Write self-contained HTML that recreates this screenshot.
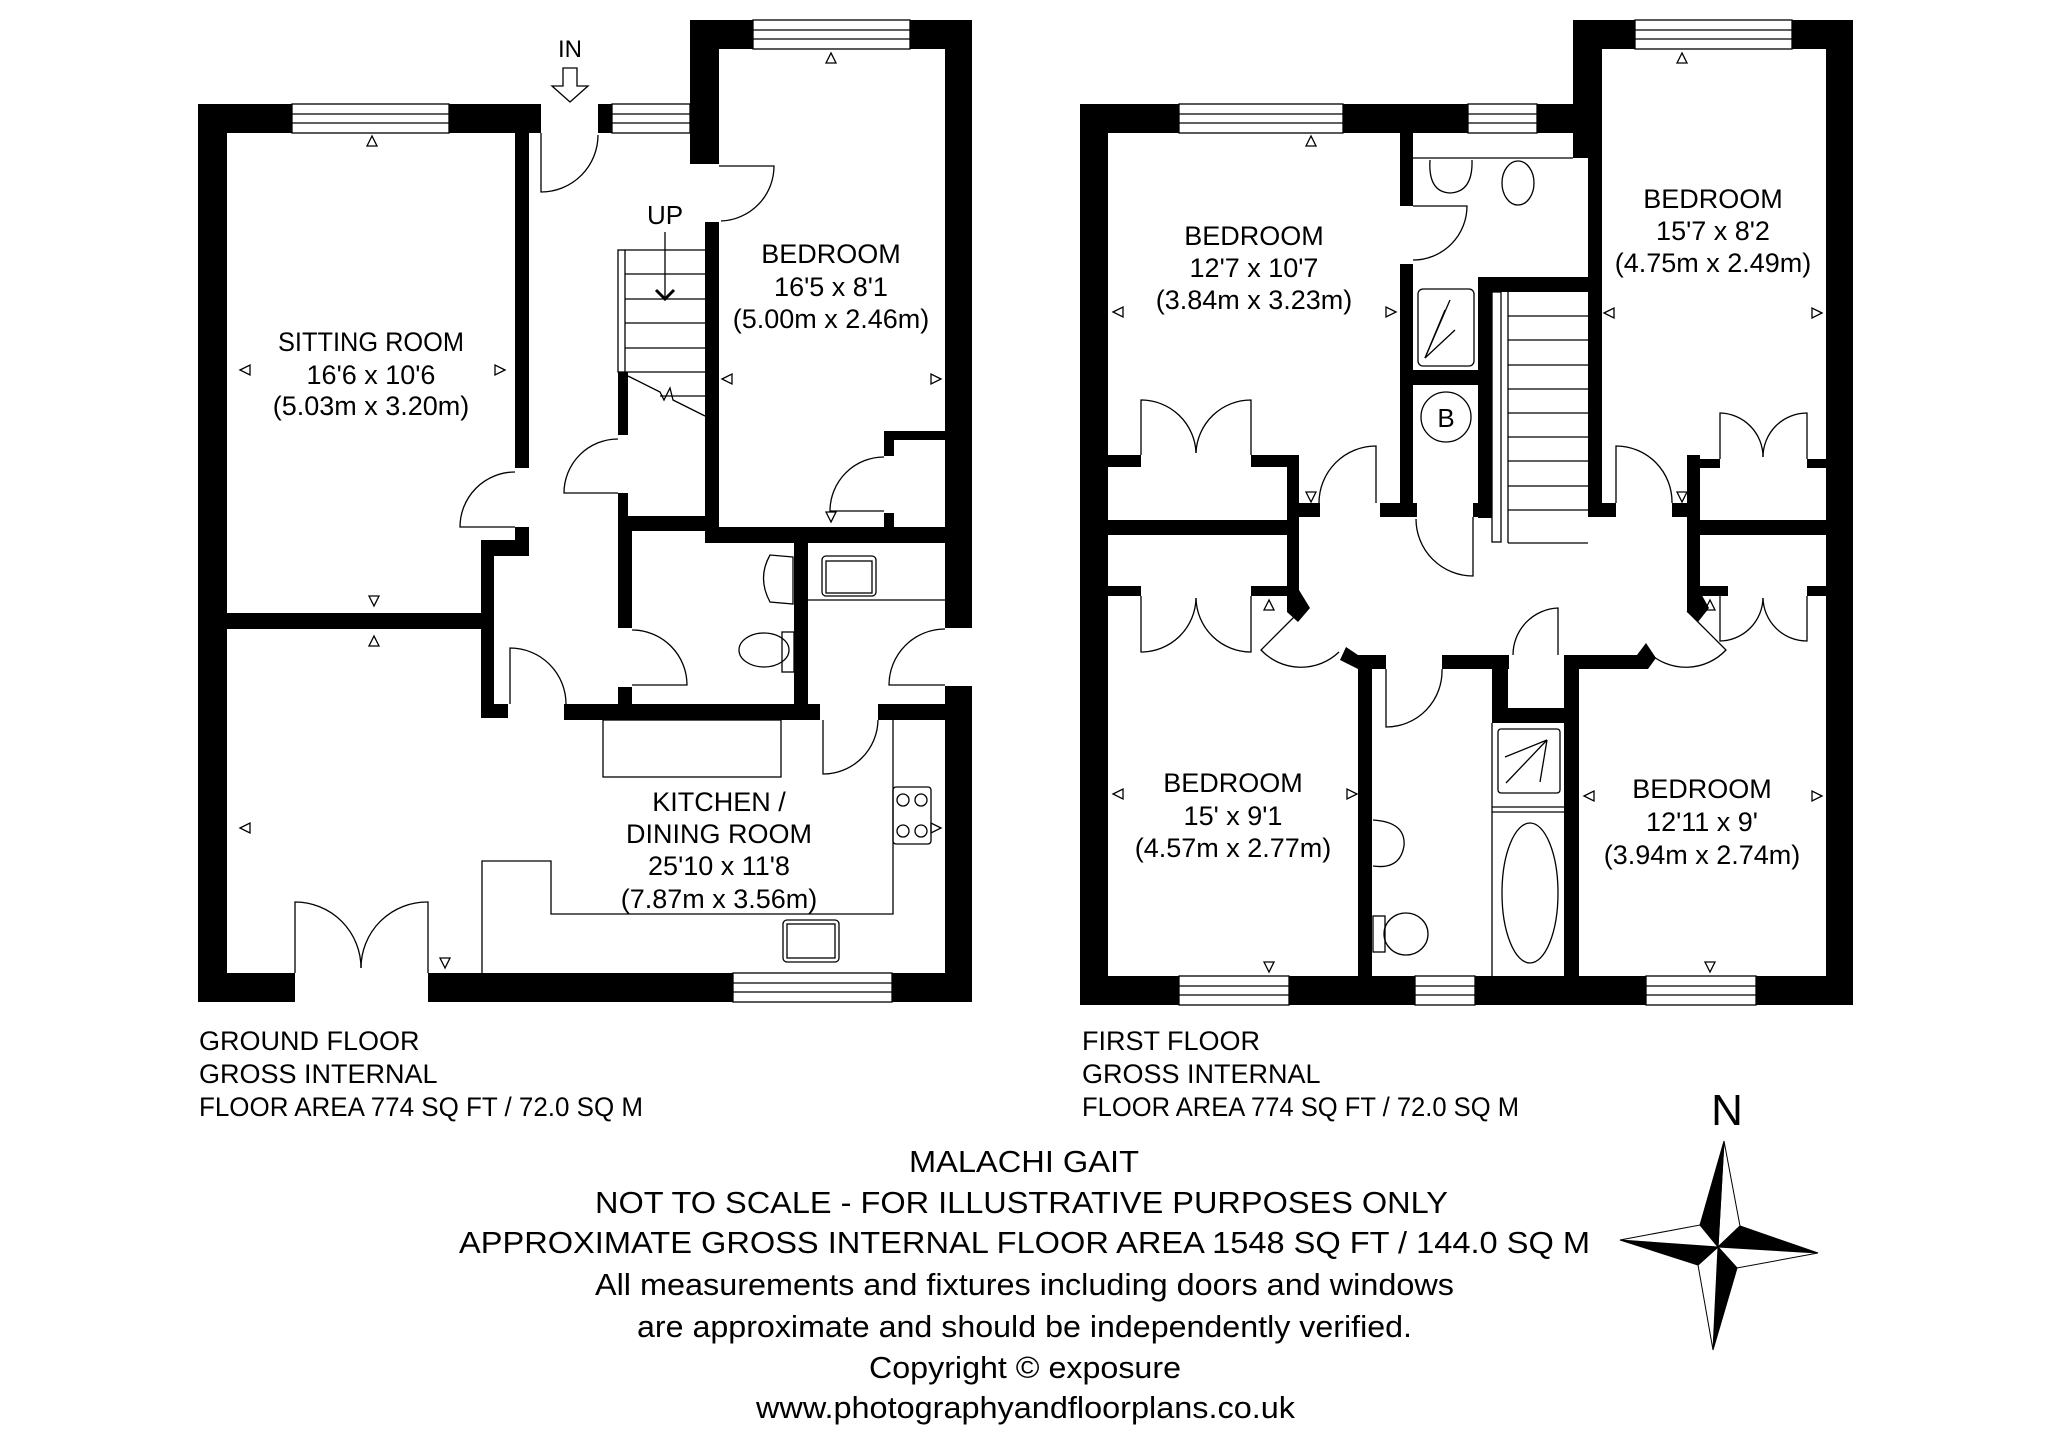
<!DOCTYPE html>
<html><head><meta charset="utf-8"><style>
html,body{margin:0;padding:0;background:#fff;}
svg{display:block;}
text{font-family:"Liberation Sans",Arial,sans-serif;fill:#000;}
.n{font-family:"Liberation Sans Narrow","Liberation Sans",sans-serif;}
</style></head><body>
<svg width="2048" height="1447" viewBox="0 0 2048 1447" xmlns="http://www.w3.org/2000/svg">
<rect width="2048" height="1447" fill="#fff"/>
<g fill="#000">
<!-- GROUND FLOOR walls -->
<rect x="198" y="104" width="29" height="898"/>
<rect x="198" y="104" width="94" height="29"/>
<rect x="449" y="104" width="92" height="29"/>
<rect x="598" y="104" width="14" height="29"/>
<rect x="690" y="20" width="29" height="144"/>
<rect x="690" y="20" width="63" height="29"/>
<rect x="910" y="20" width="62" height="29"/>
<rect x="945" y="20" width="27" height="608"/>
<rect x="945" y="686" width="27" height="316"/>
<rect x="198" y="973" width="97" height="29"/>
<rect x="428" y="973" width="305" height="29"/>
<rect x="892" y="973" width="80" height="29"/>
<rect x="515" y="133" width="14" height="335"/>
<rect x="515" y="527" width="14" height="29"/>
<rect x="481" y="540" width="48" height="16"/>
<rect x="481" y="540" width="13" height="178"/>
<rect x="494" y="704" width="14" height="14"/>
<rect x="227" y="613" width="254" height="16"/>
<rect x="564" y="704" width="256" height="16"/>
<rect x="878" y="704" width="67" height="16"/>
<rect x="618" y="372" width="10" height="63"/>
<rect x="618" y="493" width="10" height="23"/>
<rect x="618" y="516" width="87" height="15"/>
<rect x="618" y="531" width="14" height="97"/>
<rect x="618" y="687" width="14" height="18"/>
<rect x="705" y="222" width="14" height="321"/>
<rect x="705" y="527" width="240" height="16"/>
<rect x="884" y="431" width="10" height="25"/>
<rect x="884" y="431" width="61" height="9"/>
<rect x="884" y="513" width="10" height="14"/>
<rect x="794" y="543" width="14" height="162"/>

<!-- FIRST FLOOR walls -->
<rect x="1080" y="104" width="28" height="901"/>
<rect x="1080" y="104" width="99" height="29"/>
<rect x="1343" y="104" width="125" height="29"/>
<rect x="1537" y="104" width="36" height="29"/>
<rect x="1573" y="20" width="29" height="138"/>
<rect x="1573" y="20" width="62" height="29"/>
<rect x="1792" y="20" width="61" height="29"/>
<rect x="1826" y="20" width="27" height="985"/>
<rect x="1588" y="130" width="14" height="387"/>
<rect x="1080" y="976" width="99" height="29"/>
<rect x="1289" y="976" width="126" height="29"/>
<rect x="1475" y="976" width="171" height="29"/>
<rect x="1756" y="976" width="97" height="29"/>
<rect x="1400" y="130" width="13" height="76"/>
<rect x="1400" y="264" width="13" height="253"/>
<rect x="1380" y="503" width="37" height="14"/>
<rect x="1473" y="503" width="19" height="14"/>
<rect x="1588" y="503" width="28" height="14"/>
<rect x="1478" y="277" width="124" height="15"/>
<rect x="1478" y="277" width="14" height="241"/>
<rect x="1400" y="370" width="78" height="15"/>
<rect x="1108" y="455" width="33" height="12"/>
<rect x="1251" y="455" width="48" height="12"/>
<rect x="1287" y="455" width="12" height="157"/>
<rect x="1108" y="520" width="191" height="15"/>
<rect x="1108" y="586" width="33" height="10"/>
<rect x="1251" y="586" width="48" height="10"/>
<rect x="1292" y="503" width="28" height="14"/>
<rect x="1672" y="503" width="28" height="14"/>
<rect x="1687" y="455" width="13" height="157"/>
<rect x="1692" y="459" width="28" height="9"/>
<rect x="1807" y="459" width="20" height="9"/>
<rect x="1687" y="520" width="140" height="15"/>
<rect x="1700" y="586" width="28" height="10"/>
<rect x="1807" y="586" width="20" height="10"/>
<polygon points="1287,600 1299,590 1310,608 1298,622 1287,612"/>
<polygon points="1687,612 1687,600 1699,590 1709,608 1698,622"/>
<polygon points="1340,660 1346,647 1358,655 1386,655 1386,669 1358,669"/>
<rect x="1442" y="655" width="67" height="14"/>
<rect x="1565" y="655" width="72" height="14"/>
<polygon points="1637,655 1646,643 1656,658 1648,669 1637,669"/>
<rect x="1358" y="655" width="14" height="325"/>
<rect x="1492" y="655" width="16" height="68"/>
<rect x="1492" y="708" width="73" height="15"/>
<rect x="1564" y="655" width="15" height="325"/>
</g>

<g fill="none" stroke="#000" stroke-width="1.3">
<!-- windows ground -->
<rect x="292" y="104" width="157" height="29"/><line x1="292" y1="114" x2="449" y2="114"/><line x1="292" y1="123" x2="449" y2="123"/>
<rect x="612" y="104" width="78" height="29"/><line x1="612" y1="114" x2="690" y2="114"/><line x1="612" y1="123" x2="690" y2="123"/>
<rect x="753" y="20" width="157" height="29"/><line x1="753" y1="30" x2="910" y2="30"/><line x1="753" y1="39" x2="910" y2="39"/>
<rect x="733" y="973" width="159" height="29"/><line x1="733" y1="983" x2="892" y2="983"/><line x1="733" y1="992" x2="892" y2="992"/>
<!-- windows first -->
<rect x="1179" y="104" width="164" height="29"/><line x1="1179" y1="114" x2="1343" y2="114"/><line x1="1179" y1="123" x2="1343" y2="123"/>
<rect x="1468" y="104" width="69" height="29"/><line x1="1468" y1="114" x2="1537" y2="114"/><line x1="1468" y1="123" x2="1537" y2="123"/>
<rect x="1635" y="20" width="157" height="29"/><line x1="1635" y1="30" x2="1792" y2="30"/><line x1="1635" y1="39" x2="1792" y2="39"/>
<rect x="1179" y="976" width="110" height="29"/><line x1="1179" y1="986" x2="1289" y2="986"/><line x1="1179" y1="995" x2="1289" y2="995"/>
<rect x="1415" y="976" width="60" height="29"/><line x1="1415" y1="986" x2="1475" y2="986"/><line x1="1415" y1="995" x2="1475" y2="995"/>
<rect x="1646" y="976" width="110" height="29"/><line x1="1646" y1="986" x2="1756" y2="986"/><line x1="1646" y1="995" x2="1756" y2="995"/>

<!-- ground doors -->
<path d="M541,133 L541,192 A57,57 0 0 0 598,135"/>
<path d="M719,166 L774,166 A55,55 0 0 1 721,221"/>
<path d="M515,527 L460,527 A55,55 0 0 1 515,472"/>
<path d="M618,493 L564,493 A54,54 0 0 1 618,439"/>
<path d="M884,511 L830,511 A54,54 0 0 1 884,457"/>
<path d="M632,685 L687,685 A55,55 0 0 0 632,630"/>
<path d="M945,685 L889,685 A56,56 0 0 1 945,629"/>
<path d="M510,704 L510,648 A56,56 0 0 1 566,704"/>
<path d="M823,720 L823,774 A55,55 0 0 0 878,720"/>
<path d="M295,973 L295,902 A66,66 0 0 1 361,968"/>
<path d="M428,973 L428,902 A66,66 0 0 0 361,968"/>
<!-- stairs ground -->
<rect x="618" y="250" width="7" height="122"/>
<line x1="625" y1="250" x2="705" y2="250"/>
<line x1="625" y1="274" x2="705" y2="274"/><line x1="625" y1="299" x2="705" y2="299"/>
<line x1="625" y1="323" x2="705" y2="323"/><line x1="625" y1="348" x2="705" y2="348"/>
<line x1="625" y1="372" x2="705" y2="372"/><line x1="660" y1="396" x2="705" y2="396"/>
<path d="M628,376 L660,392 L664,400 L670,388 L673,400 L705,416"/>
<line x1="665" y1="232" x2="665" y2="298"/>
<path d="M656,290 L665,299 L674,290" stroke-width="3"/>
<!-- IN arrow -->
<path d="M563,68 L577,68 L577,86 L588,86 L570,102 L552,86 L563,86 Z"/>
<!-- kitchen fittings -->
<rect x="603" y="720" width="178" height="57"/>
<path d="M482,973 L482,861 L551,861 L551,914 L893,914 L893,720"/>
<rect x="893" y="787" width="38" height="57" rx="3"/>
<circle cx="903" cy="800" r="6"/><circle cx="921" cy="800" r="6"/><circle cx="903" cy="831" r="6"/><circle cx="921" cy="831" r="6"/>
<rect x="783" y="920" width="56" height="42" rx="4"/><rect x="787" y="924" width="48" height="34"/>
<line x1="808" y1="600" x2="945" y2="600"/>
<rect x="822" y="556" width="54" height="40" rx="4"/><rect x="826" y="561" width="46" height="32"/>
<path d="M793,557 L770,555 Q757,578 770,602 L793,604 Z"/>
<ellipse cx="764" cy="650" rx="25" ry="17"/>
<rect x="782" y="632" width="12" height="40"/>

<!-- first floor doors -->
<path d="M1413,206 L1467,206 A54,54 0 0 1 1413,260"/>
<path d="M1376,503 L1376,446 A57,57 0 0 0 1319,503"/>
<path d="M1473,517 L1473,576 A57,57 0 0 1 1416,519"/>
<path d="M1616,503 L1616,446 A56,56 0 0 1 1672,503"/>
<path d="M1300,611 L1261,650 A55,55 0 0 0 1339,652"/>
<path d="M1687,611 L1726,650 A55,55 0 0 1 1648,652"/>
<path d="M1386,669 L1386,727 A56,56 0 0 0 1442,669"/>
<path d="M1558,655 L1558,608 A47,47 0 0 0 1513,655"/>
<path d="M1141,455 L1141,400 A55,55 0 0 1 1196,453"/>
<path d="M1251,455 L1251,400 A55,55 0 0 0 1196,453"/>
<path d="M1141,596 L1141,652 A55,55 0 0 0 1196,598"/>
<path d="M1251,596 L1251,652 A55,55 0 0 1 1196,598"/>
<path d="M1720,459 L1720,413 A44,44 0 0 1 1763,457"/>
<path d="M1807,459 L1807,413 A44,44 0 0 0 1763,457"/>
<path d="M1720,596 L1720,641 A44,44 0 0 0 1763,598"/>
<path d="M1807,596 L1807,641 A44,44 0 0 1 1763,598"/>
<!-- first floor fittings -->
<line x1="1413" y1="158" x2="1573" y2="158"/>
<path d="M1430,160 Q1428,192 1450,193 Q1473,192 1472,160"/>
<ellipse cx="1518" cy="183" rx="16" ry="22"/>
<rect x="1418" y="289" width="56" height="77" rx="5"/>
<line x1="1425" y1="358" x2="1450" y2="300"/><line x1="1425" y1="358" x2="1455" y2="330"/><line x1="1425" y1="358" x2="1445" y2="310"/>
<circle cx="1446" cy="417" r="25"/>
<rect x="1492" y="292" width="9" height="250"/>
<line x1="1508" y1="292" x2="1508" y2="543"/>
<line x1="1508" y1="543" x2="1588" y2="543"/>
<line x1="1508" y1="316" x2="1588" y2="316"/><line x1="1508" y1="340" x2="1588" y2="340"/>
<line x1="1508" y1="365" x2="1588" y2="365"/><line x1="1508" y1="389" x2="1588" y2="389"/>
<line x1="1508" y1="413" x2="1588" y2="413"/><line x1="1508" y1="437" x2="1588" y2="437"/>
<line x1="1508" y1="461" x2="1588" y2="461"/><line x1="1508" y1="486" x2="1588" y2="486"/>
<line x1="1508" y1="510" x2="1588" y2="510"/>
<rect x="1498" y="729" width="62" height="64" rx="3"/>
<line x1="1506" y1="783" x2="1547" y2="740"/><line x1="1505" y1="757" x2="1547" y2="740"/><line x1="1540" y1="782" x2="1547" y2="740"/>
<line x1="1492" y1="807" x2="1565" y2="807"/><line x1="1492" y1="812" x2="1565" y2="812"/>
<ellipse cx="1530" cy="893" rx="28" ry="70"/>
<line x1="1492" y1="723" x2="1492" y2="976"/>
<path d="M1373,820 Q1406,822 1404,846 Q1400,870 1373,866"/>
<ellipse cx="1406" cy="934" rx="22" ry="21"/>
<rect x="1373" y="916" width="12" height="36"/>

<!-- dimension markers -->
<path d="M372,136 l-5,10 h10 z M240,370 l10,-5 v10 z M505,370 l-10,-5 v10 z M374,606 l-5,-10 h10 z M374,636 l-5,10 h10 z"/>
<path d="M831,53 l-5,10 h10 z M722,379 l10,-5 v10 z M941,379 l-10,-5 v10 z M831,522 l-5,-10 h10 z"/>
<path d="M240,828 l10,-5 v10 z M941,828 l-10,-5 v10 z M445,968 l-5,-10 h10 z"/>
<path d="M1311,136 l-5,10 h10 z M1113,312 l10,-5 v10 z M1396,312 l-10,-5 v10 z M1311,502 l-5,-10 h10 z"/>
<path d="M1682,53 l-5,10 h10 z M1604,313 l10,-5 v10 z M1822,313 l-10,-5 v10 z M1682,502 l-5,-10 h10 z"/>
<path d="M1269,600 l-5,10 h10 z M1113,794 l10,-5 v10 z M1357,794 l-10,-5 v10 z M1269,972 l-5,-10 h10 z"/>
<path d="M1710,600 l-5,10 h10 z M1584,796 l10,-5 v10 z M1822,796 l-10,-5 v10 z M1710,972 l-5,-10 h10 z"/>
</g>

<!-- compass -->
<g stroke="#000" stroke-width="1">
<polygon points="1724,1141 1740,1226 1718,1247" fill="#fff"/>
<polygon points="1724,1141 1700,1225 1718,1247" fill="#000"/>
<polygon points="1818,1253 1740,1226 1718,1247" fill="#000"/>
<polygon points="1818,1253 1737,1268 1718,1247" fill="#fff"/>
<polygon points="1713,1350 1737,1268 1718,1247" fill="#000"/>
<polygon points="1713,1350 1698,1265 1718,1247" fill="#fff"/>
<polygon points="1620,1240 1698,1265 1718,1247" fill="#000"/>
<polygon points="1620,1240 1700,1225 1718,1247" fill="#fff"/>
</g>
<text x="1727" y="1125" font-size="44" text-anchor="middle">N</text>

<!-- labels -->
<g font-size="27" text-anchor="middle">
<text x="570" y="57" font-size="24">IN</text>
<text x="665" y="224" font-size="26">UP</text>
<text x="371" y="351" textLength="186" lengthAdjust="spacingAndGlyphs">SITTING ROOM</text>
<text x="371" y="384">16'6 x 10'6</text>
<text x="371" y="415">(5.03m x 3.20m)</text>
<text x="831" y="263">BEDROOM</text>
<text x="831" y="296">16'5 x 8'1</text>
<text x="831" y="328">(5.00m x 2.46m)</text>
<text x="719" y="811">KITCHEN /</text>
<text x="719" y="843">DINING ROOM</text>
<text x="719" y="875">25'10 x 11'8</text>
<text x="719" y="908">(7.87m x 3.56m)</text>
<text x="1254" y="245">BEDROOM</text>
<text x="1254" y="277">12'7 x 10'7</text>
<text x="1254" y="309">(3.84m x 3.23m)</text>
<text x="1713" y="208">BEDROOM</text>
<text x="1713" y="240">15'7 x 8'2</text>
<text x="1713" y="272">(4.75m x 2.49m)</text>
<text x="1233" y="792">BEDROOM</text>
<text x="1233" y="825">15' x 9'1</text>
<text x="1233" y="857">(4.57m x 2.77m)</text>
<text x="1702" y="798">BEDROOM</text>
<text x="1702" y="831">12'11 x 9'</text>
<text x="1702" y="864">(3.94m x 2.74m)</text>
<text x="1446" y="427" font-size="26">B</text>
</g>

<g font-size="27">
<text x="199" y="1050">GROUND FLOOR</text>
<text x="199" y="1083">GROSS INTERNAL</text>
<text x="199" y="1116" textLength="444" lengthAdjust="spacingAndGlyphs">FLOOR AREA 774 SQ FT / 72.0 SQ M</text>
<text x="1082" y="1050">FIRST FLOOR</text>
<text x="1082" y="1083">GROSS INTERNAL</text>
<text x="1082" y="1116" textLength="437" lengthAdjust="spacingAndGlyphs">FLOOR AREA 774 SQ FT / 72.0 SQ M</text>
</g>

<g font-size="31">
<text x="909" y="1172" textLength="230" lengthAdjust="spacingAndGlyphs">MALACHI GAIT</text>
<text x="595" y="1213" textLength="853" lengthAdjust="spacingAndGlyphs">NOT TO SCALE - FOR ILLUSTRATIVE PURPOSES ONLY</text>
<text x="459" y="1253" textLength="1131" lengthAdjust="spacingAndGlyphs">APPROXIMATE GROSS INTERNAL FLOOR AREA 1548 SQ FT / 144.0 SQ M</text>
<text x="595" y="1295" textLength="859" lengthAdjust="spacingAndGlyphs">All measurements and fixtures including doors and windows</text>
<text x="637" y="1337" textLength="775" lengthAdjust="spacingAndGlyphs">are approximate and should be independently verified.</text>
<text x="869" y="1378" textLength="312" lengthAdjust="spacingAndGlyphs">Copyright © exposure</text>
<text x="756" y="1418" textLength="539" lengthAdjust="spacingAndGlyphs">www.photographyandfloorplans.co.uk</text>
</g>
</svg>
</body></html>
